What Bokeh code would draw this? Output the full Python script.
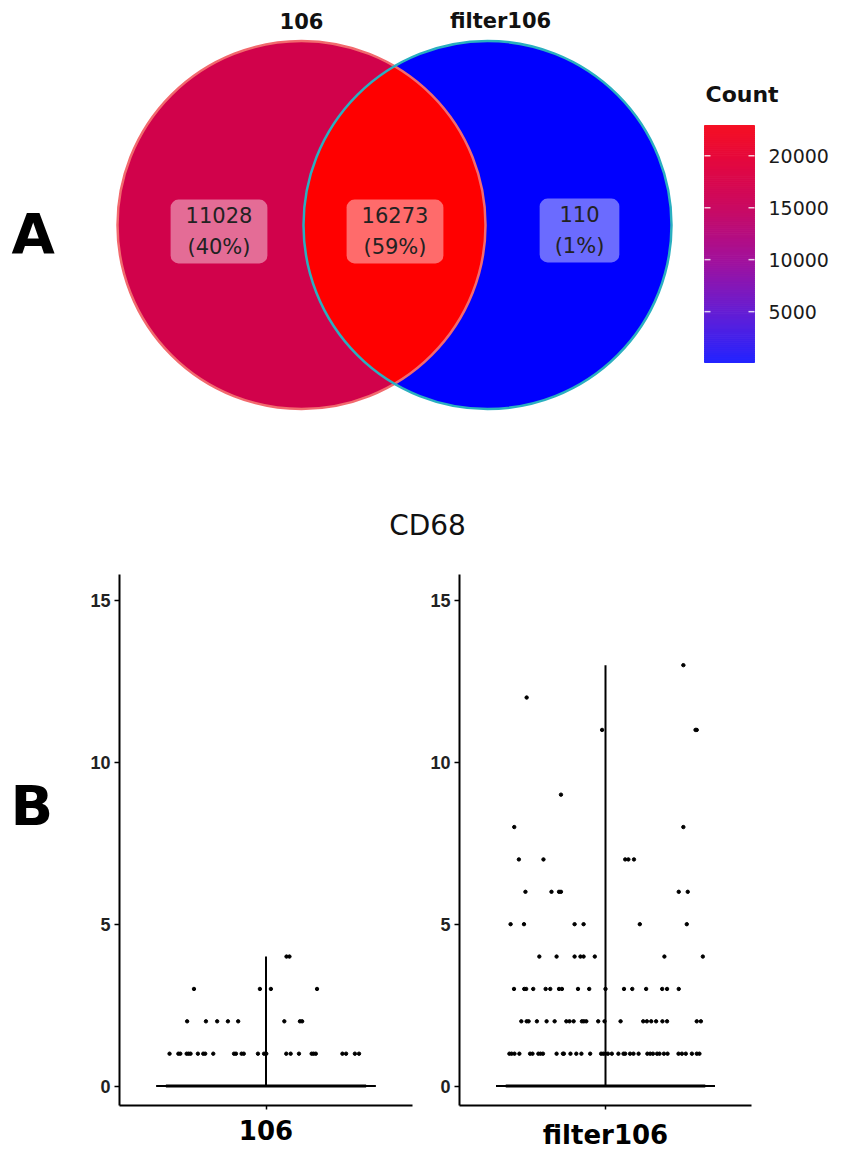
import numpy as np
from bokeh.plotting import figure
from bokeh.layouts import column, row
from bokeh.models import Range1d, FixedTicker, ColumnDataSource
from bokeh.core.properties import value
from bokeh.embed import file_html
from bokeh.resources import INLINE

# ---------------- data: Venn (panel A) ----------------
set_names = ["106", "filter106"]
region_counts = [11028, 16273, 110]          # 106 only, shared, filter106 only
region_pcts = ["40%", "59%", "1%"]
region_colors = ["#D1024B", "#FF0000", "#0000FF"]
count_low, count_high = 110, 22900
count_ticks = [5000, 10000, 15000, 20000]

# ---------------- data: CD68 expression (panel B) ----------------
gene = "CD68"
groups = ["106", "filter106"]

# group "106": jitter offsets of the points at each expression level
j106_l4 = [0.084, 0.096]
j106_l3 = [-0.295, -0.025, 0.020, 0.209]
j106_l2 = [-0.323, -0.246, -0.200, -0.156, -0.114, 0.075, 0.139, 0.148]
j106_l1 = [-0.395, -0.359, -0.351, -0.325, -0.317, -0.309, -0.279, -0.257, -0.249,
           -0.216, -0.131, -0.123, -0.100, -0.091, -0.033, -0.008, 0.001, 0.083,
           0.101, 0.135, 0.187, 0.195, 0.204, 0.313, 0.328, 0.364, 0.381]
levels_106 = [4, 3, 2, 1]
jit_106 = [j106_l4, j106_l3, j106_l2, j106_l1]

# group "filter106"
jf_l13 = [0.320]
jf_l12 = [-0.324]
jf_l11 = [-0.014, 0.370, 0.375]
jf_l9 = [-0.183]
jf_l8 = [-0.375, 0.320]
jf_l7 = [-0.356, -0.255, 0.081, 0.094, 0.117]
jf_l6 = [-0.329, -0.222, -0.191, -0.183, 0.301, 0.338]
jf_l5 = [-0.390, -0.335, -0.127, -0.090, 0.141, 0.334]
jf_l4 = [-0.272, -0.201, -0.127, -0.103, -0.090, -0.044, 0.242, 0.400]
jf_l3 = [-0.376, -0.334, -0.326, -0.297, -0.246, -0.227, -0.191, -0.179, -0.113,
         -0.067, 0.0, 0.076, 0.110, 0.167, 0.233, 0.253, 0.301]
jf_l2 = [-0.346, -0.324, -0.316, -0.282, -0.242, -0.209, -0.161, -0.148, -0.131,
         -0.097, -0.089, -0.079, -0.030, -0.004, 0.062, 0.155, 0.170, 0.188,
         0.208, 0.234, 0.253, 0.375, 0.392]
jf_l1 = [-0.395, -0.386, -0.374, -0.354, -0.310, -0.300, -0.276, -0.267, -0.257,
         -0.201, -0.175, -0.171, -0.144, -0.120, -0.099, -0.063, -0.018, -0.009,
         0.0, 0.010, 0.026, 0.053, 0.074, 0.081, 0.101, 0.115, 0.136, 0.172,
         0.184, 0.195, 0.212, 0.222, 0.240, 0.255, 0.300, 0.314, 0.330, 0.355,
         0.375, 0.386]
levels_f = [13, 12, 11, 9, 8, 7, 6, 5, 4, 3, 2, 1]
jit_f = [jf_l13, jf_l12, jf_l11, jf_l9, jf_l8, jf_l7, jf_l6, jf_l5, jf_l4, jf_l3, jf_l2, jf_l1]
y_ticks = [0, 5, 10, 15]

FONT = "DejaVu Sans"

# ---------------- panel A figure ----------------
W = 832
HA = 545
pA = figure(width=W, height=HA, x_range=Range1d(0, W), y_range=Range1d(HA, 0),
            x_axis_type=None, y_axis_type=None, output_backend="svg",
            toolbar_location=None, min_border=0)
pA.grid.visible = False
pA.outline_line_color = None

cxL, cxR, cy, r = 301.0, 487.0, 224.5, 184.0
d = cxR - cxL
alpha = np.arccos((d / 2) / r)


def arc(cx, t0, t1, n=160):
    t = np.linspace(t0, t1, n)
    return list(cx + r * np.cos(t)), list(cy + r * np.sin(t))


def join(a, b):
    return a[0] + b[0], a[1] + b[1]


left_only = join(arc(cxL, alpha, 2 * np.pi - alpha), arc(cxR, np.pi + alpha, np.pi - alpha))
lens = join(arc(cxR, np.pi - alpha, np.pi + alpha), arc(cxL, -alpha, alpha))
right_only = join(arc(cxR, np.pi + alpha, 3 * np.pi - alpha), arc(cxL, alpha, -alpha))

reg_src = ColumnDataSource(dict(xs=[left_only[0], lens[0], right_only[0]],
                                ys=[left_only[1], lens[1], right_only[1]],
                                color=region_colors))
pA.patches("xs", "ys", source=reg_src, fill_color="color", line_color=None)

pA.circle(x=[cxL], y=[cy], radius=r, fill_color=None, line_color="#F26A6E", line_width=2.5)
pA.circle(x=[cxR], y=[cy], radius=r, fill_color=None, line_color="#2AAFC0", line_width=2.5)

lab_src = ColumnDataSource(dict(
    x=[218.5, 394.5, 579.0], y=[231.0, 231.0, 230.0],
    text=[f"{c}\n({p})" for c, p in zip(region_counts, region_pcts)]))
pA.text("x", "y", text="text", source=lab_src, text_font=value(FONT),
        text_font_size="21px", text_color="#222222", text_align="center",
        text_baseline="middle", text_line_height=1.33,
        background_fill_color="white", background_fill_alpha=0.42,
        border_radius=8, padding=dict(left=15, right=15, top=4, bottom=4))

pA.text(x=[301, 500], y=[20, 20], text=set_names, text_font=value(FONT),
        text_font_size="21px", text_font_style="bold", text_color="#111111",
        text_align="center", text_baseline="middle")

# colour bar (Count)
def mix(c0, c1, f):
    return tuple(int(round(a + (b - a) * f)) for a, b in zip(c0, c1))

anchors = [(0.0, (36, 36, 255)), (0.2, (98, 30, 214)), (0.42, (160, 18, 158)),
           (0.64, (200, 10, 100)), (0.85, (228, 8, 62)), (1.0, (246, 16, 34))]


def grad(f):
    for (f0, c0), (f1, c1) in zip(anchors[:-1], anchors[1:]):
        if f <= f1:
            return "#%02x%02x%02x" % mix(c0, c1, (f - f0) / (f1 - f0))
    return "#%02x%02x%02x" % anchors[-1][1]


bar_l, bar_r, bar_top, bar_bot = 704, 754, 125, 362
nstep = 120
vals = np.linspace(count_low, count_high, nstep + 1)


def vy(v):
    return bar_bot - (v - count_low) / (count_high - count_low) * (bar_bot - bar_top)


cols = [grad((v - count_low) / (count_high - count_low)) for v in vals[:-1]]
pA.quad(left=bar_l, right=bar_r, bottom=[vy(v) for v in vals[:-1]],
        top=[vy(v) for v in vals[1:]], fill_color=cols, line_color=cols, line_width=1)
ty = [vy(v) for v in count_ticks]
pA.segment(x0=bar_l, x1=bar_l + 6, y0=ty, y1=ty, line_color="white", line_alpha=0.8, line_width=1.5)
pA.segment(x0=bar_r - 6, x1=bar_r, y0=ty, y1=ty, line_color="white", line_alpha=0.8, line_width=1.5)
pA.text(x=768, y=ty, text=[str(v) for v in count_ticks], text_font=value(FONT),
        text_font_size="19px", text_color="#1a1a1a", text_align="left", text_baseline="middle")
pA.text(x=[705], y=[94], text=["Count"], text_font=value(FONT), text_font_size="22px",
        text_font_style="bold", text_color="#111111", text_align="left", text_baseline="middle")

# panel letter and gene title
pA.text(x=[11], y=[233], text=["A"], text_font=value(FONT), text_font_size="56px",
        text_font_style="bold", text_color="black", text_align="left", text_baseline="middle")
pA.text(x=[427], y=[525], text=[gene], text_font=value(FONT), text_font_size="28px",
        text_color="#111111", text_align="center", text_baseline="middle")

# ---------------- panel B ----------------
HB = 1152 - HA
pL = figure(width=80, height=HB, x_range=Range1d(0, 80), y_range=Range1d(1152, HA),
            x_axis_type=None, y_axis_type=None, output_backend="svg",
            toolbar_location=None, min_border=0)
pL.grid.visible = False
pL.outline_line_color = None
pL.text(x=[10], y=[809], text=["B"], text_font=value(FONT), text_font_size="56px",
        text_font_style="bold", text_color="black", text_align="left", text_baseline="middle")


def violin_plot(width, bl, br, levels, jits, label):
    p = figure(width=width, height=HB, x_range=Range1d(-0.6, 0.6),
               y_range=Range1d(-0.6, 15.8), min_border_left=bl, min_border_right=br,
               min_border_top=29, min_border_bottom=44, output_backend="svg",
               toolbar_location=None)
    p.grid.visible = False
    p.outline_line_color = None
    xs, ys = [], []
    for lv, jj in zip(levels, jits):
        xs += jj
        ys += [lv] * len(jj)
    top = max(ys)
    # violin: density almost entirely at zero -> wide base, thin stem up to the max
    p.segment(x0=[-0.45], x1=[0.45], y0=[0], y1=[0], line_color="black", line_width=2)
    p.segment(x0=[-0.41], x1=[0.41], y0=[0], y1=[0], line_color="black", line_width=3)
    p.segment(x0=[0], x1=[0], y0=[0], y1=[top], line_color="black", line_width=2)
    p.scatter(xs, ys, size=3.4, color="black", marker="circle")

    xa = p.xaxis[0]
    xa.ticker = FixedTicker(ticks=[0])
    xa.major_label_overrides = {0: label}
    xa.major_label_text_font = FONT
    xa.major_label_text_font_style = "bold"
    xa.major_label_text_font_size = "26px"
    xa.major_label_text_color = "black"
    xa.major_label_standoff = 10
    xa.major_tick_out = 4
    xa.major_tick_in = 0
    xa.minor_tick_line_color = None
    xa.axis_line_width = 2
    xa.major_tick_line_width = 1.5

    ya = p.yaxis[0]
    ya.ticker = FixedTicker(ticks=y_ticks)
    ya.major_label_text_font = "Liberation Sans"
    ya.major_label_text_font_style = "bold"
    ya.major_label_text_font_size = "18px"
    ya.major_label_text_color = "#222222"
    ya.major_label_standoff = 4
    ya.major_tick_out = 5
    ya.major_tick_in = 0
    ya.minor_tick_line_color = None
    ya.axis_line_width = 2
    ya.major_tick_line_width = 1.5
    return p


p1 = violin_plot(344, 39, 12, levels_106, jit_106, groups[0])
p2 = violin_plot(W - 80 - 344, 35, 81, levels_f, jit_f, groups[1])

layout = column(pA, row(pL, p1, p2, spacing=0), spacing=0)
open("out.html", "w").write(file_html(layout, INLINE))
